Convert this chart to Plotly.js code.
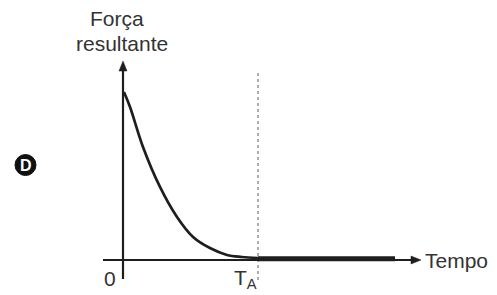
<!DOCTYPE html>
<html>
<head>
<meta charset="utf-8">
<script src="https://cdn.plot.ly/plotly-3.0.1.min.js"></script>
<style>html,body{margin:0;padding:0;background:#fff;}#chart{width:497px;height:295px;}</style>
</head>
<body>
<div id="chart"></div>
<script>
// Time in units of T_A, force relative to its initial value
const time = [0.007, 0.052, 0.148, 0.274, 0.400, 0.519, 0.644, 0.770, 0.880, 1.000];
const force = [1.000, 0.911, 0.673, 0.435, 0.256, 0.137, 0.071, 0.030, 0.018, 0.012];
const restTime = [1.000, 2.015];
const restForce = [0.008, 0.008];
const tickLabels = ["0", "T<sub>A</sub>"];
const axisLabels = ["Força", "resultante", "Tempo"];
const optionLabel = "D";

const W = 497, H = 295;
const px = v => v / W, py = v => 1 - v / H;
const ink = '#1e1e1e', txt = '#333333';
const font = {family: 'Liberation Sans, Arial, sans-serif', size: 21, color: txt};

const traces = [
  {x: time, y: force, mode: 'lines', line: {color: ink, width: 2.7, shape: 'spline', smoothing: 1}, hoverinfo: 'skip'},
  {x: restTime, y: restForce, mode: 'lines', line: {color: ink, width: 5}, hoverinfo: 'skip'}
];

// pixel-space path helper (paper coords, margins are zero)
const P = (x, y) => `${px(x)},${py(y)}`;

const layout = {
  width: W, height: H,
  margin: {l: 0, r: 0, t: 0, b: 0},
  paper_bgcolor: '#fff', plot_bgcolor: '#fff',
  showlegend: false,
  xaxis: {visible: false, range: [-123/135, (497-123)/135], fixedrange: true},
  yaxis: {visible: false, range: [(260-295)/168, 260/168], fixedrange: true},
  shapes: [
    {type: 'line', xref: 'x', yref: 'y', x0: 1, x1: 1, y0: (260-280)/168, y1: (260-72)/168,
     line: {color: '#777', width: 1.2, dash: 'dot'}},
    // y axis
    {type: 'line', xref: 'x', yref: 'y', x0: 0, x1: 0, y0: (260-279)/168, y1: (260-68)/168,
     line: {color: ink, width: 2.2}},
    {type: 'path', xref: 'paper', yref: 'paper', path: `M${P(123,61)} L${P(127,71)} L${P(119,71)} Z`,
     fillcolor: ink, line: {color: ink, width: 0.5}},
    // x axis
    {type: 'line', xref: 'x', yref: 'y', x0: (103-123)/135, x1: (414-123)/135, y0: 0, y1: 0,
     line: {color: ink, width: 2.2}},
    {type: 'path', xref: 'paper', yref: 'paper', path: `M${P(421,260)} L${P(411,264)} L${P(411,256)} Z`,
     fillcolor: ink, line: {color: ink, width: 0.5}},
    // option badge
    {type: 'circle', xref: 'paper', yref: 'paper', x0: px(15), x1: px(36), y0: py(175.5), y1: py(154.5),
     fillcolor: '#111', line: {color: '#111', width: 1}}
  ],
  annotations: [
    {xref: 'paper', yref: 'paper', x: px(117), y: py(18), text: axisLabels[0], showarrow: false, font: font, xanchor: 'center', yanchor: 'middle'},
    {xref: 'paper', yref: 'paper', x: px(121.5), y: py(43), text: axisLabels[1], showarrow: false, font: font, xanchor: 'center', yanchor: 'middle'},
    {xref: 'paper', yref: 'paper', x: px(423), y: py(260), text: axisLabels[2], showarrow: false, font: font, xanchor: 'left', yanchor: 'middle'},
    {xref: 'paper', yref: 'paper', x: px(110), y: py(278), text: tickLabels[0], showarrow: false, font: font, xanchor: 'center', yanchor: 'middle'},
    {xref: 'paper', yref: 'paper', x: px(232), y: py(279), text: tickLabels[1], showarrow: false, font: font, xanchor: 'left', yanchor: 'middle'},
    {xref: 'paper', yref: 'paper', x: px(25.5), y: py(165), text: '<b>' + optionLabel + '</b>', showarrow: false,
     font: {family: 'Liberation Sans, Arial, sans-serif', size: 16, color: '#fff'}, xanchor: 'center', yanchor: 'middle'}
  ]
};

Plotly.newPlot('chart', traces, layout, {displayModeBar: false, staticPlot: true}).then(gd => {
  gd.querySelectorAll('text').forEach(t => { if (!t.textContent.trim()) t.remove(); });
});
</script>
</body>
</html>
